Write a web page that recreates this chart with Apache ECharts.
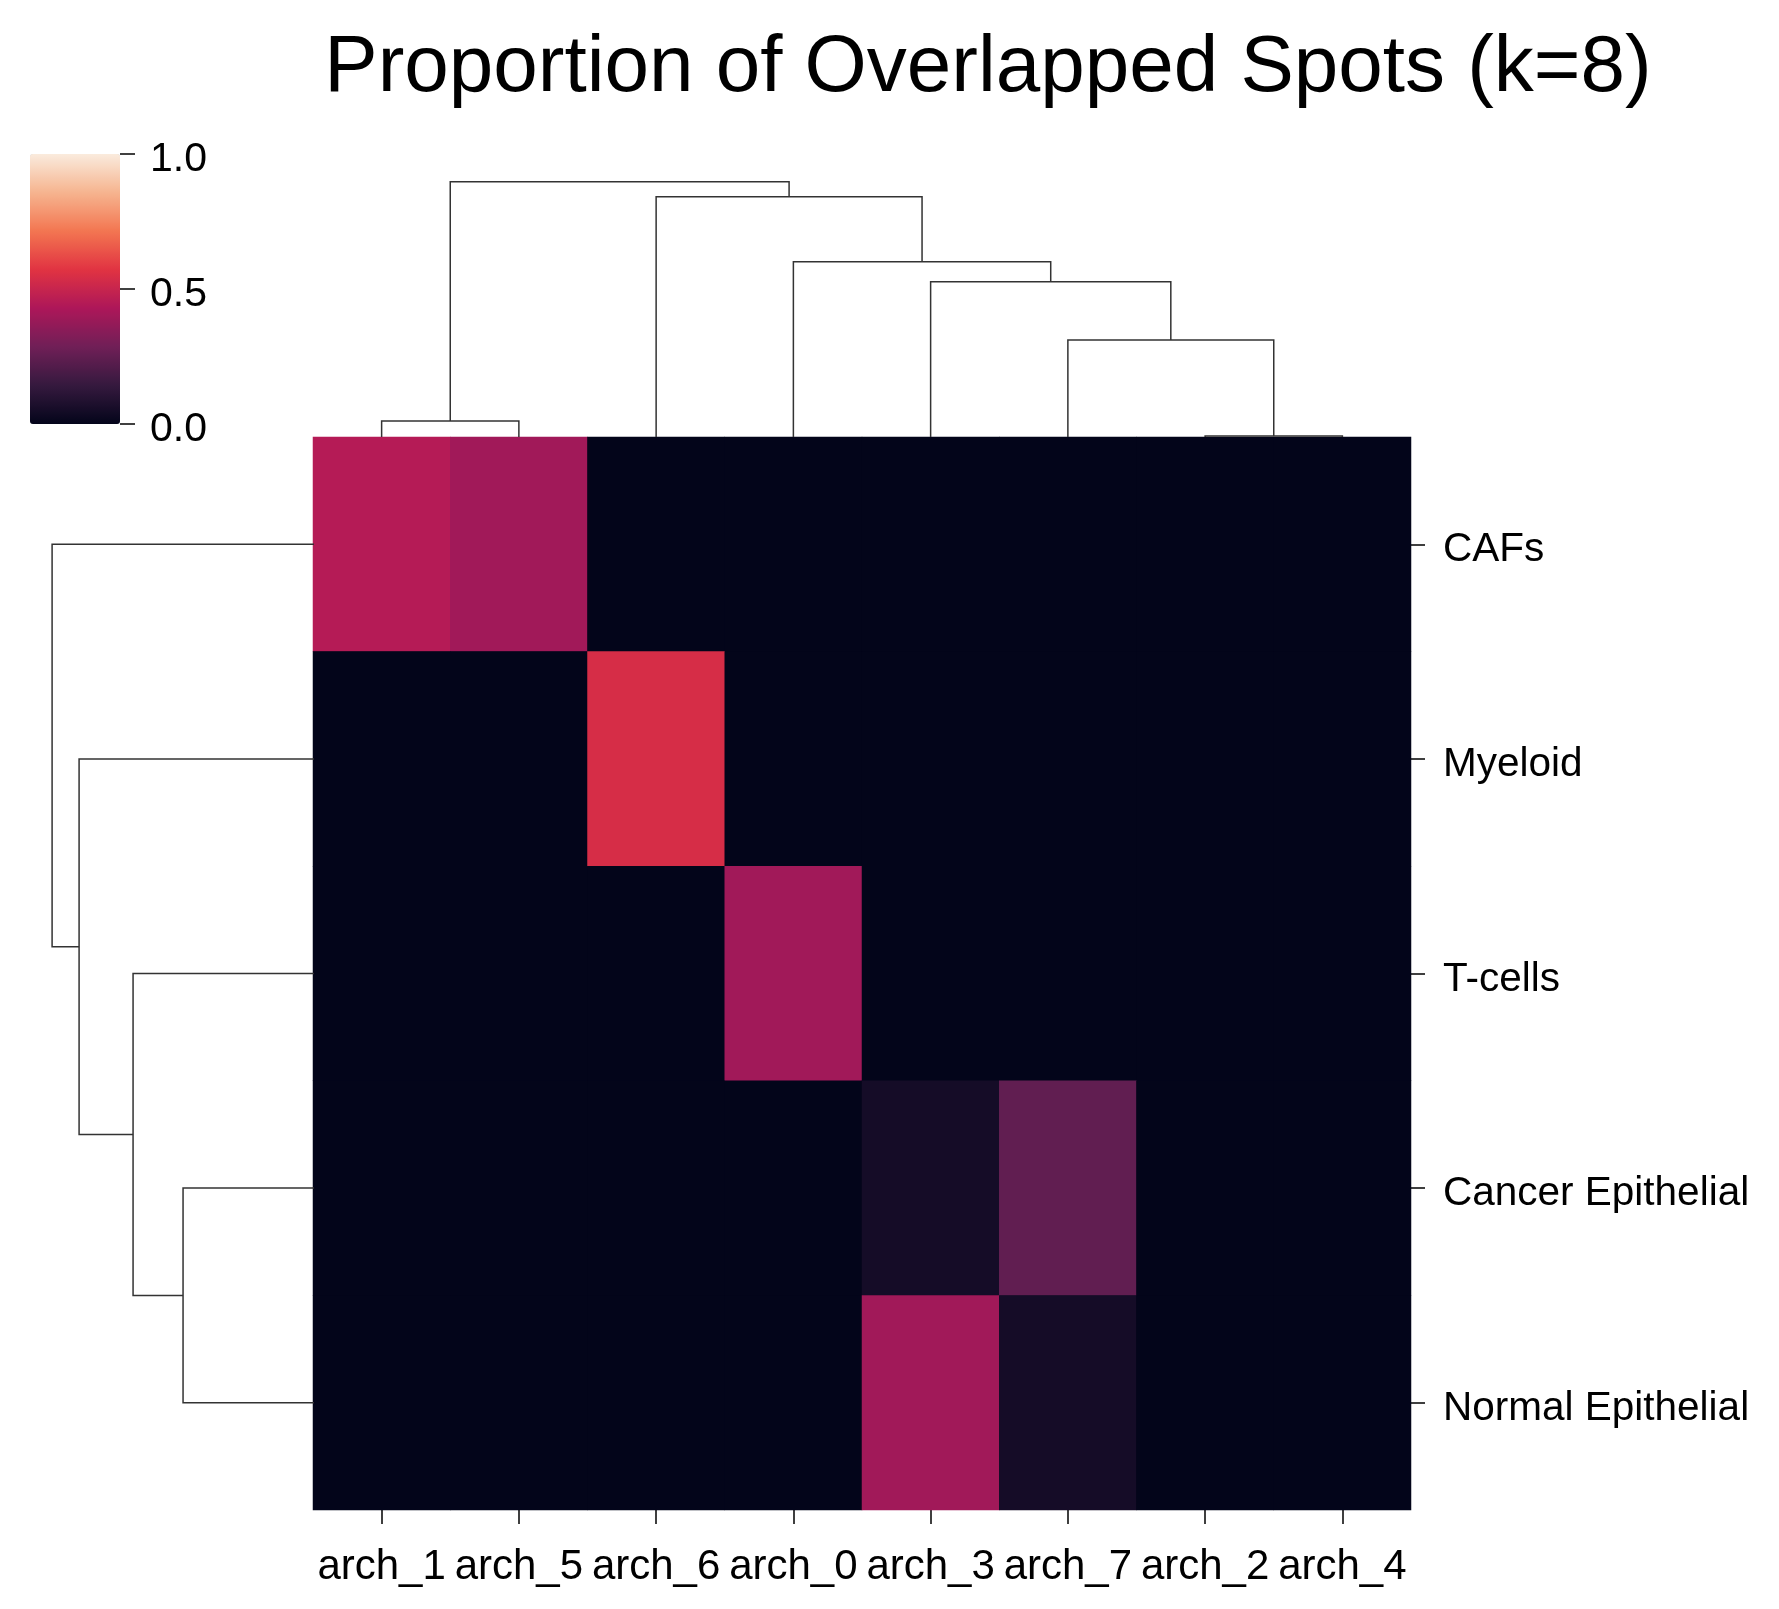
<!DOCTYPE html>
<html lang="en">
  <head>
    <meta charset="UTF-8" />
    <title>Proportion of Overlapped Spots</title>
    <script src="https://cdn.jsdelivr.net/npm/echarts@6/dist/echarts.min.js"></script>
    <style>
      body {
        margin: 0;
        background: #fff;
      }
      #app {
        width: 1779px;
        height: 1609px;
      }
    </style>
  </head>
  <body>
    <div id="app"></div>
    <script>
      // leaf order as the dendrograms put them
      const colLabels = ["arch_1", "arch_5", "arch_6", "arch_0", "arch_3", "arch_7", "arch_2", "arch_4"];
      const rowLabels = ["CAFs", "Myeloid", "T-cells", "Cancer Epithelial", "Normal Epithelial"];

      // one array per row, in colLabels order
      const cafs = [0.45, 0.4, 0, 0, 0, 0, 0, 0];
      const myeloid = [0, 0, 0.54, 0, 0, 0, 0, 0];
      const tcells = [0, 0, 0, 0.4, 0, 0, 0, 0];
      const cancerEpi = [0, 0, 0, 0, 0.05, 0.25, 0, 0];
      const normalEpi = [0, 0, 0, 0, 0.4, 0.05, 0, 0];
      const rows = [cafs, myeloid, tcells, cancerEpi, normalEpi];

      // colorbar ticks
      const cbarTicks = [0, 0.5, 1];

      // scipy-style linkage: [childA, childB, height], leaves are 0..n-1
      const colLinkage = [
        [0, 1, 0.16],
        [6, 7, 0.01],
        [5, 9, 0.97],
        [4, 10, 1.55],
        [3, 11, 1.75],
        [2, 12, 2.4],
        [8, 13, 2.55],
      ];
      const rowLinkage = [
        [3, 4, 1.31],
        [2, 5, 1.81],
        [1, 6, 2.35],
        [0, 7, 2.62],
      ];

      // rocket colormap stops
      const rocket = ["#03051a", "#35193e", "#701f57", "#ad1759", "#e13342", "#f37651", "#f6b48f", "#faebdd"];

      const font = "Liberation Sans";

      function buildLinks(linkage, n) {
        const pos = [];
        const hgt = [];
        for (let i = 0; i < n; i++) {
          pos.push(i + 0.5);
          hgt.push(0);
        }
        return linkage.map(([a, b, h]) => {
          const item = [pos[a], hgt[a], pos[b], hgt[b], h];
          pos.push((pos[a] + pos[b]) / 2);
          hgt.push(h);
          return item;
        });
      }

      // label pushed a bit below its tick, like matplotlib does
      function lowLabel(size, drop) {
        return {
          color: "#000",
          fontSize: size,
          fontFamily: font,
          rich: { a: { color: "#000", fontSize: size, fontFamily: font, padding: [drop, 0, 0, 0] } },
        };
      }

      const heatData = [];
      rows.forEach((r, y) => r.forEach((v, x) => heatData.push([x, y, v])));

      const colLinks = buildLinks(colLinkage, colLabels.length);
      const rowLinks = buildLinks(rowLinkage, rowLabels.length);
      const colMax = Math.max(...colLinkage.map((l) => l[2])) * 1.05;
      const rowMax = Math.max(...rowLinkage.map((l) => l[2])) * 1.05;

      const lineStyle = { stroke: "#333", lineWidth: 1.5, fill: null };
      const tickStyle = { stroke: "#000", lineWidth: 1.5 };

      const chart = echarts.init(document.getElementById("app"));
      chart.setOption({
        animation: false,
        graphic: [
          {
            type: "text",
            x: 988,
            y: 69,
            style: {
              text: "Proportion of Overlapped Spots (k=8)",
              font: "80px " + font,
              fill: "#000",
              align: "center",
              verticalAlign: "middle",
            },
          },
        ],
        grid: [
          // heatmap, dark backdrop hides seams between cells
          { left: 313, top: 437, width: 1098, height: 1073, show: true, backgroundColor: rocket[0], borderWidth: 0 },
          { left: 313, top: 169, width: 1098, height: 268 }, // top dendrogram
          { left: 39, top: 437, width: 275, height: 1073 }, // left dendrogram
          { left: 30, top: 154, width: 90, height: 270 }, // colorbar scale
        ],
        xAxis: [
          {
            type: "category",
            gridIndex: 0,
            data: colLabels,
            position: "bottom",
            axisLine: { show: false },
            axisTick: { show: true, length: 14, alignWithLabel: true, lineStyle: { color: "#000", width: 1.5 } },
            axisLabel: { color: "#000", fontSize: 42, fontFamily: font, margin: 36, interval: 0 },
            splitLine: { show: false },
          },
          { type: "value", gridIndex: 1, min: 0, max: colLabels.length, show: false },
          { type: "value", gridIndex: 2, min: 0, max: rowMax, inverse: true, show: false },
          { type: "value", gridIndex: 3, min: 0, max: 1, show: false },
        ],
        yAxis: [
          {
            type: "category",
            gridIndex: 0,
            data: rowLabels,
            inverse: true,
            position: "right",
            axisLine: { show: false },
            axisTick: { show: true, length: 14, alignWithLabel: true, lineStyle: { color: "#000", width: 1.5 } },
            axisLabel: Object.assign(lowLabel(40.5, 12), {
              margin: 32,
              formatter: (v) => "{a|" + v + "}",
            }),
            splitLine: { show: false },
          },
          { type: "value", gridIndex: 1, min: 0, max: colMax, show: false },
          { type: "value", gridIndex: 2, min: 0, max: rowLabels.length, inverse: true, show: false },
          {
            type: "value",
            gridIndex: 3,
            min: 0,
            max: 1,
            interval: 0.5,
            position: "right",
            axisLine: { show: false },
            axisTick: { show: false },
            axisLabel: Object.assign(lowLabel(41, 12), {
              margin: 30,
              formatter: (v) => "{a|" + v.toFixed(1) + "}",
            }),
            splitLine: { show: false },
          },
        ],
        visualMap: {
          type: "continuous",
          seriesIndex: 0,
          min: 0,
          max: 1,
          calculable: false,
          orient: "vertical",
          left: 30,
          top: 154,
          padding: 0,
          itemWidth: 90,
          itemHeight: 270,
          inRange: { color: rocket },
        },
        series: [
          {
            type: "heatmap",
            xAxisIndex: 0,
            yAxisIndex: 0,
            data: heatData,
            itemStyle: { borderWidth: 0 },
            emphasis: { disabled: true },
          },
          {
            type: "custom",
            xAxisIndex: 1,
            yAxisIndex: 1,
            data: colLinks,
            silent: true,
            renderItem(params, api) {
              const pts = [
                api.coord([api.value(0), api.value(1)]),
                api.coord([api.value(0), api.value(4)]),
                api.coord([api.value(2), api.value(4)]),
                api.coord([api.value(2), api.value(3)]),
              ];
              return { type: "polyline", shape: { points: pts }, style: lineStyle };
            },
          },
          {
            type: "custom",
            xAxisIndex: 2,
            yAxisIndex: 2,
            data: rowLinks,
            silent: true,
            renderItem(params, api) {
              const pts = [
                api.coord([api.value(1), api.value(0)]),
                api.coord([api.value(4), api.value(0)]),
                api.coord([api.value(4), api.value(2)]),
                api.coord([api.value(3), api.value(2)]),
              ];
              return { type: "polyline", shape: { points: pts }, style: lineStyle };
            },
          },
          {
            // colorbar tick marks, placed on the scale axis at each tick value
            type: "custom",
            xAxisIndex: 3,
            yAxisIndex: 3,
            data: cbarTicks.map((t) => [1, t]),
            silent: true,
            renderItem(params, api) {
              const p = api.coord([api.value(0), api.value(1)]);
              return {
                type: "line",
                shape: { x1: p[0], y1: p[1], x2: p[0] + 15, y2: p[1] },
                style: tickStyle,
              };
            },
          },
        ],
      });
    </script>
  </body>
</html>
